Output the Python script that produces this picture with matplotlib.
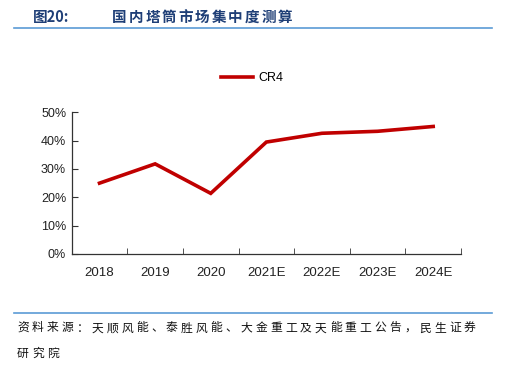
import matplotlib
matplotlib.use("Agg")
import matplotlib.pyplot as plt
from matplotlib.lines import Line2D

plt.rcParams['font.family'] = ['Liberation Sans', 'Noto Sans CJK SC', 'DejaVu Sans']

years = ['2018', '2019', '2020', '2021E', '2022E', '2023E', '2024E']
cr4 = [25.0, 31.8, 21.4, 39.5, 42.6, 43.3, 45.0]
yticks = [0, 10, 20, 30, 40, 50]

red = '#C00000'
blue = '#5B9BD5'
navy = '#1F3F77'

fig = plt.figure(figsize=(5.08, 3.65), dpi=100)
fig.patch.set_facecolor('white')


def spaced(x0, y, s, pitch, **kw):
    # chinese text in the reference is drawn with wide letter spacing
    for i, ch in enumerate(s):
        fig.text((x0 + i * pitch) / 508, 1 - y / 365, ch, va='center',
                 family=['Noto Sans CJK SC'], **kw)


# header
fig.text(33/508, 1 - 17/365, '图20:', fontsize=10.5, fontweight='bold', color=navy,
         family=['Noto Sans CJK SC'], va='center')
spaced(112, 17, '国内塔筒市场集中度测算', 16.6, fontsize=10.5, fontweight='bold', color=navy)
fig.add_artist(Line2D([14/508, 492/508], [1 - 28/365, 1 - 28/365], color=blue, lw=1.2))

ax = fig.add_axes([71.7/508, 111/365, (461 - 71.7)/508, (254 - 112.3)/365])
x = list(range(len(years)))
ax.plot(x, cr4, color=red, lw=2.6, label='CR4', solid_joinstyle='miter')

ax.set_xlim(-0.5, len(years) - 0.5)
ax.set_ylim(0, 50)
ax.set_yticks(yticks)
ax.set_yticklabels([f'{v}%' for v in yticks], fontsize=9, color='#222222')
ax.set_xticks(x)
ax.set_xticklabels(years, fontsize=9.5, color='#222222')
ax.tick_params(axis='x', which='major', length=0, pad=9)
ax.set_xticks([i + 0.5 for i in x], minor=True)
ax.tick_params(axis='x', which='minor', direction='in', length=4, color='#333333')
ax.tick_params(axis='y', direction='in', length=4, color='#333333', pad=4)
for s in ['top', 'right']:
    ax.spines[s].set_visible(False)
for s in ['left', 'bottom']:
    ax.spines[s].set_color('#333333')
    ax.spines[s].set_linewidth(0.9)

fig.legend(loc='center', bbox_to_anchor=(252/508, 1 - 78/365), frameon=False,
           fontsize=9, handlelength=2.6, handletextpad=0.4)

# footer
fig.add_artist(Line2D([14/508, 492/508], [1 - 313/365, 1 - 313/365], color=blue, lw=1.2))
spaced(17, 328, '资料来源：天顺风能、泰胜风能、大金重工及天能重工公告，民生证券',
       14.9, fontsize=8.5, color='#111111')
spaced(17, 353, '研究院', 14.9, fontsize=8.5, color='#111111')

fig.savefig('out.png', dpi=100)
